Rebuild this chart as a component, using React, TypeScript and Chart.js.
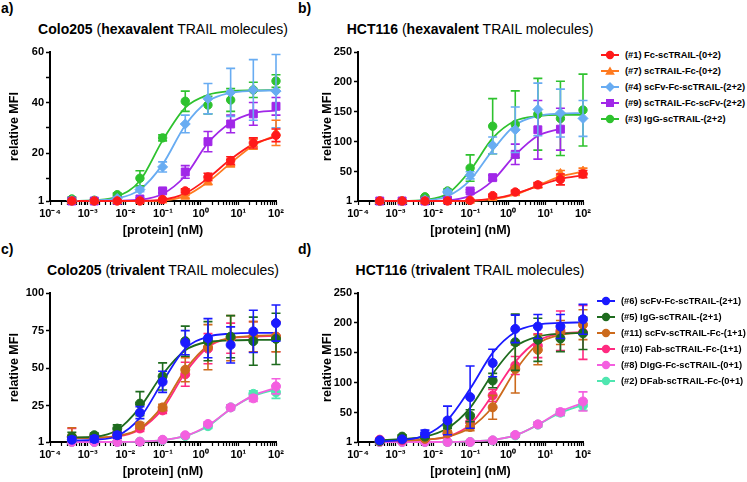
import React, { useEffect, useRef } from 'react';
import { Chart, registerables } from 'chart.js';
Chart.register(...registerables);

const FONT = "'Liberation Sans', Arial, Helvetica, sans-serif";

// concentrations (nM), 4-fold dilution series
const CONC_NM = [0.00038, 0.0015, 0.0061, 0.0244, 0.0977, 0.39, 1.5625, 6.25, 25, 100];
const X_TICK_VALUES = [1e-4, 1e-3, 1e-2, 1e-1, 1, 10, 100];
const X_TICK_LABELS = ['10⁻⁴', '10⁻³', '10⁻²', '10⁻¹', '10⁰', '10¹', '10²'];
const Y_TICKS_A = [1, 10, 20, 30, 40, 50, 60];
const Y_LABELS_A = ['1', '', '20', '', '40', '', '60'];
const Y_TICKS_B = [1, 50, 100, 150, 200, 250];
const Y_LABELS_B = ['1', '50', '100', '150', '200', '250'];
const Y_TICKS_C = [1, 25, 50, 75, 100];
const Y_LABELS_C = ['1', '25', '50', '75', '100'];

// ---- a) Colo205 hexavalent ----
const A1_MEAN = [1.0, 1.0, 1.0, 1.0, 1.6, 5.0, 10.5, 17.0, 24.0, 27.0];
const A1_SD = [0.3, 0.3, 0.3, 0.3, 0.4, 0.8, 1.5, 1.5, 2.0, 2.5];
const A1_FIT = [1.0, 1.0, 1.0, 1.05, 1.5, 4.0, 10.0, 17.5, 23.5, 26.5];
const A7_MEAN = [1.0, 1.0, 1.0, 1.0, 1.2, 2.7, 8.5, 16.0, 23.5, 28.0];
const A7_SD = [0.2, 0.2, 0.2, 0.2, 0.3, 0.5, 1.0, 1.5, 2.0, 5.0];
const A7_FIT = [1.0, 1.0, 1.0, 1.0, 1.2, 3.0, 8.5, 16.0, 23.0, 27.0];
const A4_MEAN = [1.2, 1.1, 2.0, 5.5, 14.5, 31.5, 41.5, 44.0, 45.0, 44.5];
const A4_SD = [0.3, 0.3, 0.5, 0.8, 2.0, 3.5, 6.0, 9.5, 12.0, 14.5];
const A4_FIT = [1.0, 1.2, 2.0, 5.5, 15.5, 31.0, 40.5, 43.8, 44.6, 44.8];
const A9_MEAN = [1.0, 1.0, 1.2, 1.8, 5.0, 12.5, 24.5, 31.5, 35.5, 38.5];
const A9_SD = [0.3, 0.3, 0.3, 0.4, 0.8, 2.5, 4.0, 3.5, 4.5, 3.5];
const A9_FIT = [1.0, 1.0, 1.1, 1.5, 3.8, 11.0, 24.0, 32.0, 35.8, 36.8];
const A3_MEAN = [1.8, 1.3, 3.5, 10.0, 26.0, 40.5, 39.0, 41.0, 45.0, 48.5];
const A3_SD = [0.8, 0.4, 0.6, 3.0, 1.2, 4.0, 3.5, 4.5, 3.0, 2.5];
const A3_FIT = [1.0, 1.3, 2.8, 9.0, 25.0, 38.0, 43.0, 44.5, 44.8, 44.9];

// ---- b) HCT116 hexavalent ----
const B1_MEAN = [1, 1, 1, 1, 2, 10, 16, 28, 37, 46];
const B1_SD = [0.5, 0.5, 0.5, 0.5, 1, 2, 3, 4, 9, 6];
const B1_FIT = [1, 1, 1, 1, 1.5, 5, 13, 26, 38, 44];
const B7_MEAN = [1, 1, 1, 1, 1.5, 6, 14, 27, 47, 51];
const B7_SD = [0.5, 0.5, 0.5, 0.5, 1, 2, 3, 4, 5, 5];
const B7_FIT = [1, 1, 1, 1, 1.3, 4, 12, 27, 42, 50];
const B4_MEAN = [1, 1, 3, 16, 44, 94, 120, 154, 148, 139];
const B4_SD = [0.5, 0.5, 1, 3, 6, 14, 38, 44, 40, 30];
const B4_FIT = [1, 1, 2, 9, 36, 86, 128, 143, 147, 148];
const B9_MEAN = [1, 1, 1, 2.5, 17.7, 40, 79, 120, 121, null];
const B9_SD = [0.5, 0.5, 0.5, 0.8, 2, 4, 17, 49, 35, 0];
const B9_FIT = [1, 1, 1, 2, 10, 35, 78, 110, 122, null];
const B3_MEAN = [1, 1, 8, 17.7, 56, 126, 129, 146, 139, 153];
const B3_SD = [0.5, 0.5, 1, 3, 22, 46, 56, 60, 62, 60];
const B3_FIT = [1, 1, 2.8, 13, 52, 106, 135, 143, 145, 145];

// ---- c) Colo205 trivalent ----
const C6_MEAN = [2.5, 3, 5.5, 20.5, 41, 67, 70, 65.5, 74.5, 80];
const C6_SD = [2, 2, 2, 4, 7, 8, 13, 12, 14, 12];
const C6_FIT = [2, 2.5, 5, 17, 41, 63, 71, 73, 73.5, 73.5];
const C5_MEAN = [4.4, 5.5, 9.9, 26.5, 44.6, 68, 68, 71, 68, 69.5];
const C5_SD = [3, 1.5, 2.5, 8, 9, 10, 13, 14, 16, 17];
const C5_FIT = [4, 4.5, 9, 24, 46, 62, 67.5, 68.5, 68.8, 68.9];
const C11_MEAN = [4.5, 4, 6, 12, 24, 49, 64, 70, 71, 71];
const C11_SD = [6, 2, 2, 2, 2, 8, 15, 15, 10, 10];
const C11_FIT = [3.8, 4, 5, 10, 25, 49, 65, 70, 71.5, 72];
const C10_MEAN = [4, 3.8, 5.5, 10, 22, 46, 63, 70, 71, 71];
const C10_SD = [6, 2, 2, 2, 2, 8, 10, 10, 10, 10];
const C10_FIT = [3.5, 3.7, 4.5, 9.5, 23, 47, 64, 70, 71, 71.5];
const C8_MEAN = [1, 1, 1, 1.2, 2.5, 5.5, 13, 24, 30, 38];
const C8_SD = [0.5, 0.5, 0.5, 0.5, 1, 1, 1.5, 1.5, 2, 5];
const C8_FIT = [1, 1, 1, 1.3, 2.3, 5, 12, 23, 32, 37];
const C2_MEAN = [1, 1, 1, 1.2, 2.2, 5, 11.5, 24, 33, 34];
const C2_SD = [0.5, 0.5, 0.5, 0.5, 1, 1, 1.5, 1.5, 2, 4];
const C2_FIT = [1, 1, 1, 1.2, 2.2, 5, 11.5, 23, 31.5, 36];

// ---- d) HCT116 trivalent ----
const D6_MEAN = [3.8, 5.4, 14.9, 37, 76, 133, 190, 194, 194, 206];
const D6_SD = [2, 2, 6, 24, 52, 23, 23, 20, 20, 25];
const D6_FIT = [2, 4, 12, 38, 90, 150, 185, 197, 200, 201];
const D5_MEAN = [2.7, 10, 10, 28.8, 45, 103.7, 167.7, 171.7, 174, 182.7];
const D5_SD = [2, 3, 3, 5, 10, 12, 47, 36, 22, 27];
const D5_FIT = [4, 6, 10, 24, 58, 115, 160, 177, 182, 183];
const D11_MEAN = [2.7, 5.4, 6.5, 16, 26, 59, 123, 155, 184, 197];
const D11_SD = [2, 2, 2, 4, 6, 20, 40, 25, 20, 25];
const D11_FIT = [3, 3.5, 5, 10, 25, 60, 120, 165, 180, 184];
const D10_MEAN = [4.9, 3.8, 6.5, 14.9, 34.3, 78.8, 128.8, 162, 187, 184];
const D10_SD = [2, 2, 2, 4, 6, 10, 15, 20, 33, 45];
const D10_FIT = [4, 4, 5, 10, 30, 80, 135, 170, 182, 185];
const D8_MEAN = [1, 1, 1, 1, 1, 3.8, 12.8, 30.5, 51, 68.8];
const D8_SD = [0.5, 0.5, 0.5, 0.5, 0.5, 2, 3, 4, 5, 16];
const D8_FIT = [1, 1, 1, 1, 2, 4.5, 12, 30, 52, 66];
const D2_MEAN = [1, 1, 1, 1, 1, 3.5, 12, 30, 50, 62];
const D2_SD = [0.5, 0.5, 0.5, 0.5, 0.5, 2, 3, 4, 5, 8];
const D2_FIT = [1, 1, 1, 1, 2, 4.5, 12, 29.5, 50, 63];

type Series = {
  label: string;
  color: string;
  style: string;
  radius: number;
  mean: (number | null)[];
  sd: number[];
  fit: (number | null)[];
};

const RED = '#ff1a1a';
const ORANGE = '#ff7a1f';
const LBLUE = '#68acf2';
const PURPLE = '#a127e8';
const GREEN = '#2ec22e';
const BLUE = '#1a1aff';
const DGREEN = '#1e6b1e';
const BROWN = '#cc6a1c';
const PINK = '#ff2a80';
const LPINK = '#f45fe0';
const AQUA = '#4fe6b0';

const HEX_LABELS = [
  '(#1) Fc-scTRAIL-(0+2)',
  '(#7) scTRAIL-Fc-(0+2)',
  '(#4) scFv-Fc-scTRAIL-(2+2)',
  '(#9) scTRAIL-Fc-scFv-(2+2)',
  '(#3) IgG-scTRAIL-(2+2)',
];
const TRI_LABELS = [
  '(#6) scFv-Fc-scTRAIL-(2+1)',
  '(#5) IgG-scTRAIL-(2+1)',
  '(#11) scFv-scTRAIL-Fc-(1+1)',
  '(#10) Fab-scTRAIL-Fc-(1+1)',
  '(#8) DIgG-Fc-scTRAIL-(0+1)',
  '(#2) DFab-scTRAIL-Fc-(0+1)',
];
const HEX_COLORS = [RED, ORANGE, LBLUE, PURPLE, GREEN];
const HEX_STYLES = ['circle', 'triangle', 'rectRot', 'rect', 'circle'];
const HEX_RADII = [4.2, 5, 5, 5.6, 4.2];
const TRI_COLORS = [BLUE, DGREEN, BROWN, PINK, LPINK, AQUA];

function hexSeries(means: any[], sds: any[], fits: any[]): Series[] {
  return HEX_LABELS.map((label, i) => ({
    label, color: HEX_COLORS[i], style: HEX_STYLES[i], radius: HEX_RADII[i],
    mean: means[i], sd: sds[i], fit: fits[i],
  }));
}
function triSeries(means: any[], sds: any[], fits: any[]): Series[] {
  return TRI_LABELS.map((label, i) => ({
    label, color: TRI_COLORS[i], style: 'circle', radius: 4.5,
    mean: means[i], sd: sds[i], fit: fits[i],
  }));
}

const SERIES_A = hexSeries(
  [A1_MEAN, A7_MEAN, A4_MEAN, A9_MEAN, A3_MEAN],
  [A1_SD, A7_SD, A4_SD, A9_SD, A3_SD],
  [A1_FIT, A7_FIT, A4_FIT, A9_FIT, A3_FIT]
);
const SERIES_B = hexSeries(
  [B1_MEAN, B7_MEAN, B4_MEAN, B9_MEAN, B3_MEAN],
  [B1_SD, B7_SD, B4_SD, B9_SD, B3_SD],
  [B1_FIT, B7_FIT, B4_FIT, B9_FIT, B3_FIT]
);
const SERIES_C = triSeries(
  [C6_MEAN, C5_MEAN, C11_MEAN, C10_MEAN, C8_MEAN, C2_MEAN],
  [C6_SD, C5_SD, C11_SD, C10_SD, C8_SD, C2_SD],
  [C6_FIT, C5_FIT, C11_FIT, C10_FIT, C8_FIT, C2_FIT]
);
const SERIES_D = triSeries(
  [D6_MEAN, D5_MEAN, D11_MEAN, D10_MEAN, D8_MEAN, D2_MEAN],
  [D6_SD, D5_SD, D11_SD, D10_SD, D8_SD, D2_SD],
  [D6_FIT, D5_FIT, D11_FIT, D10_FIT, D8_FIT, D2_FIT]
);

// minor + major ticks of the log axis
const X_ALL_TICKS: number[] = [];
for (let e = -4; e <= 1; e++) {
  for (let s = 1; s <= 9; s++) X_ALL_TICKS.push(s * Math.pow(10, e));
}
X_ALL_TICKS.push(100);

function xLabel(v: number): string {
  for (let i = 0; i < X_TICK_VALUES.length; i++) {
    if (Math.abs(v - X_TICK_VALUES[i]) / X_TICK_VALUES[i] < 1e-6) return X_TICK_LABELS[i];
  }
  return '';
}

const errorBarPlugin = {
  id: 'errorBars',
  beforeDatasetDraw(chart: any, args: any) {
    const ds = chart.data.datasets[args.index];
    if (!ds.isPoints) return;
    const yScale = chart.scales.y;
    const ctx = chart.ctx;
    ctx.save();
    ctx.strokeStyle = ds.borderColor;
    ctx.lineWidth = 1.6;
    const cap = 4.5;
    args.meta.data.forEach((el: any, i: number) => {
      const raw = ds.data[i];
      if (!raw || raw.e == null || raw.e <= 0) return;
      const x = el.x;
      const yTop = yScale.getPixelForValue(raw.y + raw.e);
      const lowVal = raw.y - raw.e;
      const clamped = lowVal < yScale.min;
      const yBot = yScale.getPixelForValue(Math.max(lowVal, yScale.min));
      ctx.beginPath();
      ctx.moveTo(x, yTop);
      ctx.lineTo(x, yBot);
      ctx.moveTo(x - cap, yTop);
      ctx.lineTo(x + cap, yTop);
      if (!clamped) {
        ctx.moveTo(x - cap, yBot);
        ctx.lineTo(x + cap, yBot);
      }
      ctx.stroke();
    });
    ctx.restore();
  },
};

type PanelSpec = {
  series: Series[];
  yMax: number;
  yTicks: number[];
  yLabels: string[];
  yWidth: number;
  yTitlePad: number;
  padRight: number;
  width: number;
  height: number;
};

function buildConfig(p: PanelSpec): any {
  const pointSets = p.series.map((s) => ({
    type: 'line',
    label: s.label,
    isPoints: true,
    data: CONC_NM.map((x, i) => ({ x, y: s.mean[i], e: s.sd[i] })).filter((d) => d.y != null),
    showLine: false,
    borderColor: s.color,
    backgroundColor: s.color,
    pointStyle: s.style,
    pointRadius: s.radius,
    pointBorderWidth: 1,
    pointBorderColor: s.color,
    pointBackgroundColor: s.color,
    clip: false,
  }));
  const fitSets = p.series.map((s) => ({
    type: 'line',
    label: s.label + ' fit',
    data: CONC_NM.map((x, i) => ({ x, y: s.fit[i] })).filter((d) => d.y != null),
    borderColor: s.color,
    backgroundColor: s.color,
    borderWidth: 1.8,
    pointRadius: 0,
    cubicInterpolationMode: 'monotone',
    fill: false,
    clip: false,
  }));
  const tickFont = { family: FONT, size: 11, weight: 'bold' };
  const titleFont = { family: FONT, size: 12.5, weight: 'bold' };
  return {
    type: 'line',
    data: { datasets: [...pointSets, ...fitSets] },
    plugins: [errorBarPlugin],
    options: {
      responsive: false,
      animation: false,
      devicePixelRatio: 1,
      events: [],
      layout: { padding: { left: 0, right: p.padRight, top: 12, bottom: 0 } },
      plugins: { legend: { display: false }, tooltip: { enabled: false }, title: { display: false } },
      scales: {
        x: {
          type: 'logarithmic',
          min: 1e-4,
          max: 100,
          afterBuildTicks: (s: any) => {
            s.ticks = X_ALL_TICKS.map((v) => ({ value: v }));
          },
          afterFit: (s: any) => {
            s.height = 39;
            s.paddingLeft = 0;
            s.paddingRight = 0;
          },
          ticks: {
            autoSkip: false,
            maxRotation: 0,
            minRotation: 0,
            padding: 2,
            color: '#000',
            font: tickFont,
            callback: (v: any) => xLabel(Number(v)),
          },
          grid: { display: true, drawOnChartArea: false, drawTicks: true, tickLength: 4, tickColor: '#000', tickWidth: 1.2 },
          border: { display: true, color: '#000', width: 2 },
          title: { display: true, text: '[protein] (nM)', color: '#000', font: titleFont, padding: { top: 0, bottom: 2 } },
        },
        y: {
          type: 'linear',
          min: 1,
          max: p.yMax,
          afterBuildTicks: (s: any) => {
            s.ticks = p.yTicks.map((v) => ({ value: v }));
          },
          afterFit: (s: any) => {
            s.width = p.yWidth;
            s.paddingTop = 0;
            s.paddingBottom = 0;
          },
          ticks: {
            padding: 2,
            color: '#000',
            font: tickFont,
            callback: (v: any) => {
              const i = p.yTicks.indexOf(Number(v));
              return i >= 0 ? p.yLabels[i] : '';
            },
          },
          grid: { display: true, drawOnChartArea: false, drawTicks: true, tickLength: 4, tickColor: '#000', tickWidth: 1.5 },
          border: { display: true, color: '#000', width: 2 },
          title: { display: true, text: 'relative MFI', color: '#000', font: titleFont, padding: { top: p.yTitlePad, bottom: 0 } },
        },
      },
    },
  };
}

function ChartPanel({ spec, left, top }: { spec: PanelSpec; left: number; top: number }) {
  const ref = useRef<HTMLCanvasElement | null>(null);
  useEffect(() => {
    if (!ref.current) return;
    const chart = new Chart(ref.current, buildConfig(spec));
    return () => chart.destroy();
  }, [spec]);
  return (
    <canvas
      ref={ref}
      width={spec.width}
      height={spec.height}
      style={{ position: 'absolute', left, top, width: spec.width, height: spec.height, display: 'block' }}
    />
  );
}

function Marker({ style, color }: { style: string; color: string }) {
  if (style === 'triangle') return <polygon points="10,1.5 14.8,9.8 5.2,9.8" fill={color} />;
  if (style === 'rectRot') return <polygon points="10,1 15,6 10,11 5,6" fill={color} />;
  if (style === 'rect') return <rect x={6} y={2} width={8} height={8} fill={color} />;
  return <circle cx={10} cy={6} r={4.2} fill={color} />;
}

function Legend({ series, left, top }: { series: Series[]; left: number; top: number }) {
  return (
    <div style={{ position: 'absolute', left, top }}>
      {series.map((s, i) => (
        <div
          key={i}
          style={{ position: 'absolute', left: 0, top: i * 16, height: 16, display: 'flex', alignItems: 'center', whiteSpace: 'nowrap' }}
        >
          <svg width={20} height={12} style={{ display: 'block' }}>
            <line x1={1} x2={19} y1={6} y2={6} stroke={s.color} strokeWidth={2} />
            <Marker style={s.style} color={s.color} />
          </svg>
          <span style={{ marginLeft: 5, fontSize: 9.3, fontWeight: 'bold', lineHeight: '12px' }}>{s.label}</span>
        </div>
      ))}
    </div>
  );
}

function PanelTitle({ cx, top, cell, kind }: { cx: number; top: number; cell: string; kind: string }) {
  return (
    <div style={{ position: 'absolute', left: cx, top, transform: 'translateX(-50%)', whiteSpace: 'nowrap', fontSize: 14, lineHeight: '16px' }}>
      <b>{cell}</b> (<b>{kind}</b> TRAIL molecules)
    </div>
  );
}

function PanelLetter({ text, left, top }: { text: string; left: number; top: number }) {
  return (
    <div style={{ position: 'absolute', left, top, fontSize: 14, fontWeight: 'bold', lineHeight: '16px' }}>{text}</div>
  );
}

const SPEC_A: PanelSpec = { series: SERIES_A, yMax: 60, yTicks: Y_TICKS_A, yLabels: Y_LABELS_A, yWidth: 50, yTitlePad: 7.5, padRight: 14, width: 290, height: 200 };
const SPEC_B: PanelSpec = { series: SERIES_B, yMax: 250, yTicks: Y_TICKS_B, yLabels: Y_LABELS_B, yWidth: 58, yTitlePad: 20.5, padRight: 17, width: 300, height: 200 };
const SPEC_C: PanelSpec = { series: SERIES_C, yMax: 100, yTicks: Y_TICKS_C, yLabels: Y_LABELS_C, yWidth: 50, yTitlePad: 7.5, padRight: 14, width: 290, height: 200 };
const SPEC_D: PanelSpec = { series: SERIES_D, yMax: 250, yTicks: Y_TICKS_B, yLabels: Y_LABELS_B, yWidth: 58, yTitlePad: 20.5, padRight: 17, width: 300, height: 200 };

export default function App() {
  return (
    <div style={{ position: 'absolute', left: 0, top: 0, width: 747, height: 482, background: '#fff', color: '#000', fontFamily: FONT, overflow: 'hidden' }}>
      <PanelLetter text="a)" left={1} top={0} />
      <PanelLetter text="b)" left={298} top={0} />
      <PanelLetter text="c)" left={1} top={241} />
      <PanelLetter text="d)" left={298} top={241} />
      <PanelTitle cx={163} top={21} cell="Colo205" kind="hexavalent" />
      <PanelTitle cx={470} top={21} cell="HCT116" kind="hexavalent" />
      <PanelTitle cx={163} top={262} cell="Colo205" kind="trivalent" />
      <PanelTitle cx={470} top={262} cell="HCT116" kind="trivalent" />
      <ChartPanel spec={SPEC_A} left={0} top={40} />
      <ChartPanel spec={SPEC_B} left={300} top={40} />
      <ChartPanel spec={SPEC_C} left={0} top={281} />
      <ChartPanel spec={SPEC_D} left={300} top={281} />
      <Legend series={SERIES_B} left={600} top={47} />
      <Legend series={SERIES_D} left={596} top={293} />
    </div>
  );
}
